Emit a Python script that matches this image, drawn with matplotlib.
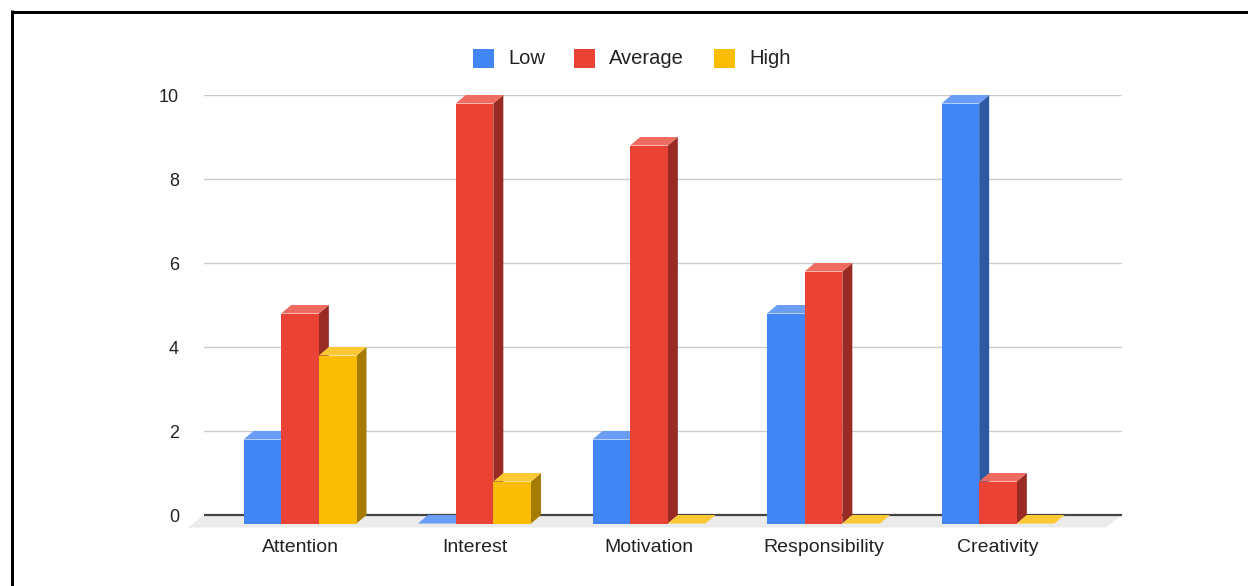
import matplotlib
matplotlib.use("Agg")
import matplotlib.pyplot as plt
from matplotlib.patches import Polygon, Rectangle
from matplotlib.lines import Line2D

plt.rcParams['font.family'] = ['Liberation Sans', 'DejaVu Sans']

# ---- data ----
categories = ["Attention", "Interest", "Motivation", "Responsibility", "Creativity"]
series_names = ["Low", "Average", "High"]
low = [2, 0, 2, 5, 10]
average = [5, 10, 9, 6, 1]
high = [4, 1, 0, 0, 0]
y_ticks = [0, 2, 4, 6, 8, 10]

# face colours: front, top, side
front_colors = ["#4285F4", "#EA4335", "#FBBC04"]
top_colors = ["#6A9EF6", "#EE6B60", "#FCC934"]
side_colors = ["#2C59A2", "#9A2A24", "#A57C00"]

W, H, DPI = 1248, 586, 100
fig = plt.figure(figsize=(W / DPI, H / DPI), dpi=DPI)
fig.patch.set_facecolor("white")

# plot area in pixels
ax_left, ax_right, ax_top, ax_bottom = 204, 1122, 95, 515
ax = fig.add_axes([ax_left / W, (H - ax_bottom) / H,
                   (ax_right - ax_left) / W, (ax_bottom - ax_top) / H])

group_px = 174.5          # pixels between category centres
first_center_px = 300     # pixel of the first category centre
px_per_unit_y = (ax_bottom - ax_top) / 10.0

ax.set_xlim((ax_left - first_center_px) / group_px,
            (ax_right - first_center_px) / group_px)
ax.set_ylim(0, 10)
for s in ax.spines.values():
    s.set_visible(False)

# 3D depth of bars and floor, expressed in data units
ddx = 10 / group_px
ddy = 8.5 / px_per_unit_y
fdx = 16 / group_px
fdy = 12.5 / px_per_unit_y

xl, xr = ax.get_xlim()

# gridlines
for t in y_ticks[1:]:
    ax.axhline(t, color="#CCCCCC", lw=1.0, zorder=1)

# floor
floor = Polygon([(xl, 0), (xr, 0), (xr - fdx, -fdy), (xl - fdx, -fdy)],
                closed=True, facecolor="#EBEBEB", edgecolor="none",
                zorder=2, clip_on=False)
ax.add_patch(floor)
ax.plot([xl, xr], [0, 0], color="#444444", lw=1.6, zorder=3,
        solid_capstyle="butt", clip_on=False)

# bars
series = [low, average, high]
n = len(series)
bw = (113 / 3) / group_px
z = 4
for i in range(len(categories)):
    for j in range(n):
        v = series[j][i]
        x0 = i - n * bw / 2 + j * bw
        x1 = x0 + bw
        front = Rectangle((x0, -ddy), bw, v, facecolor=front_colors[j],
                          edgecolor="none", zorder=z, clip_on=False)
        side = Polygon([(x1, -ddy), (x1 + ddx, 0), (x1 + ddx, v), (x1, v - ddy)],
                       closed=True, facecolor=side_colors[j], edgecolor="none",
                       zorder=z, clip_on=False)
        top = Polygon([(x0, v - ddy), (x1, v - ddy), (x1 + ddx, v), (x0 + ddx, v)],
                      closed=True, facecolor=top_colors[j], edgecolor="none",
                      zorder=z, clip_on=False)
        ax.add_patch(side)
        ax.add_patch(front)
        ax.add_patch(top)
        z += 1

# axes ticks and labels
ax.set_yticks(y_ticks)
ax.set_yticklabels([str(t) for t in y_ticks], fontsize=13, color="#222222")
ax.set_xticks(range(len(categories)))
ax.set_xticklabels(categories, fontsize=14, color="#222222")
ax.tick_params(axis="y", length=0, pad=18)
ax.tick_params(axis="x", length=0, pad=17.5)

# legend
legend_items = [(473, 508), (574, 609), (714, 749)]
sq_w, sq_h, leg_y = 21, 18, 58.5
for (sx, tx), name, col in zip(legend_items, series_names, front_colors):
    fig.add_artist(Rectangle((sx / W, 1 - (leg_y + sq_h / 2) / H), sq_w / W, sq_h / H,
                             transform=fig.transFigure, facecolor=col,
                             edgecolor="none"))
    fig.text(tx / W, 1 - leg_y / H, name, ha="left", va="center",
             fontsize=14.5, color="#222222")

# outer frame (top and left edges)
lw_pt = 3 * 72 / DPI
fig.add_artist(Line2D([11.5 / W, 1], [1 - 11.5 / H, 1 - 11.5 / H],
                      transform=fig.transFigure, color="black", lw=lw_pt,
                      solid_capstyle="butt"))
fig.add_artist(Line2D([11.5 / W, 11.5 / W], [0, 1 - 10 / H],
                      transform=fig.transFigure, color="black", lw=lw_pt,
                      solid_capstyle="butt"))

fig.savefig("out.png", dpi=DPI, facecolor="white")
